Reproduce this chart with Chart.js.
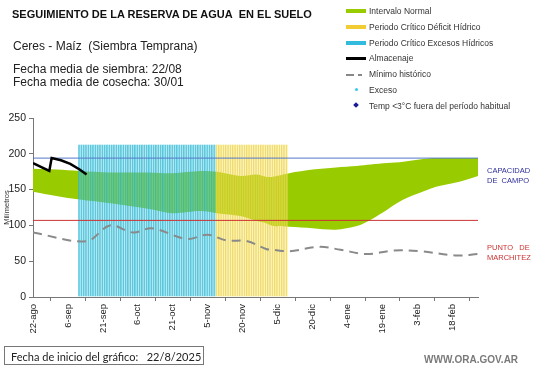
<!DOCTYPE html>
<html>
<head>
<meta charset="utf-8">
<script src="https://cdn.jsdelivr.net/npm/chart.js@4.4.1/dist/chart.umd.min.js"></script>
<style>
    body { margin: 0; background: #fff; font-family: "Liberation Sans", Arial, sans-serif; }
    #wrap { position: relative; width: 541px; height: 368px; overflow: hidden; }
    #grafico { position: absolute; left: 0; top: 0; }
    .txt { position: absolute; white-space: nowrap; color: #222; }
    .leyenda { position: absolute; left: 346px; top: 4px; font-size: 8.5px; color: #333; }
    .leyenda div { position: relative; height: 15.8px; line-height: 14px; padding-left: 23px; }
    .sw { position: absolute; left: 0; top: 5px; width: 20px; height: 4px; }
    .dot { position: absolute; left: 9px; top: 5px; width: 3px; height: 3px; border-radius: 50%; background: #33ccee; }
    .diam { position: absolute; left: 8px; top: 4px; width: 4px; height: 4px; background: #1a1a99; transform: rotate(45deg); }
</style>
</head>
<body>
<div id="wrap">
    <canvas id="grafico" width="541" height="368"></canvas>

    <div class="txt" style="left:12px; top:8px; font-size:11px; font-weight:bold; color:#111;">SEGUIMIENTO DE LA RESERVA DE AGUA&nbsp; EN EL SUELO</div>
    <div class="txt" style="left:13px; top:39px; font-size:12px;">Ceres - Maíz&nbsp; (Siembra Temprana)</div>
    <div class="txt" style="left:13px; top:63px; font-size:12px; line-height:13px;">Fecha media de siembra: 22/08<br>Fecha media de cosecha: 30/01</div>

    <div class="leyenda">
        <div><span class="sw" style="background:#99cc00;"></span>Intervalo Normal</div>
        <div><span class="sw" style="background:#f2cc33;"></span>Periodo Crítico Déficit Hídrico</div>
        <div><span class="sw" style="background:#33bbdd;"></span>Periodo Crítico Excesos Hídricos</div>
        <div><span class="sw" style="background:#000; height:2.5px; top:6px;"></span>Almacenaje</div>
        <div><span class="sw" style="background:linear-gradient(90deg,#888 0 8px,transparent 8px 12px,#888 12px 16px,transparent 16px); height:1.5px; top:7px;"></span>Mínimo histórico</div>
        <div><span class="dot"></span>Exceso</div>
        <div><span class="diam"></span>Temp &lt;3°C fuera del período habitual</div>
    </div>

    <div class="txt" style="left:487px; top:166px; font-size:7.5px; line-height:9.5px; color:#2e2e99;">CAPACIDAD<br>DE&nbsp; CAMPO</div>
    <div class="txt" style="left:487px; top:243px; font-size:7.5px; line-height:9.5px; color:#cc3333;">PUNTO&nbsp;&nbsp; DE<br>MARCHITEZ</div>

    <div class="txt" style="left:4px; top:346px; width:197px; height:19px; border:1px solid #777; font-family:Lato, sans-serif; font-size:11px; line-height:19px; padding-left:6px; box-sizing:border-box; width:200px;">Fecha de inicio del gráfico:&nbsp;&nbsp; 22/8/2025</div>
    <div class="txt" style="left:424px; top:354px; font-size:10px; font-weight:bold; color:#7a7a7a;">WWW.ORA.GOV.AR</div>
</div>

<script>
// días desde el 22/08
const tickDias = [0, 15, 30, 45, 60, 75, 90, 105, 120, 135, 150, 165, 180];
const tickEtiquetas = ["22-ago", "6-sep", "21-sep", "6-oct", "21-oct", "5-nov", "20-nov", "5-dic", "20-dic", "4-ene", "19-ene", "3-feb", "18-feb"];
const diaFinal = 191;

// intervalo normal (banda verde)
const normalDias = [0, 10, 20, 33, 50, 60, 72, 79, 89, 96, 100, 103, 110, 120, 130, 139, 145, 152, 159, 168, 173, 183, 191];
const normalSup = [179, 178, 176, 174, 174, 173, 176, 175, 169, 171, 168, 168, 173, 178, 181, 183, 185, 187, 189, 193, 194, 194, 194];
const normalInf = [147, 141, 136, 131, 123, 117, 120, 117, 113, 106, 103, 99, 98, 96, 94, 99, 108, 122, 136, 148, 154, 161, 169];

// mínimo histórico
const minimoDias = [0, 23, 33, 43, 51, 66, 75, 83, 92, 100, 103, 110, 123, 132, 143, 155, 166, 182, 191];
const minimoVals = [90, 78, 100, 90, 96, 81, 87, 79, 78, 67, 66, 64, 70, 66, 60, 65, 64, 58, 60];

// almacenaje
const almDias = [0, 7, 8, 12, 16, 20, 23];
const almVals = [187, 176, 194, 191, 186, 178, 171];

// periodos críticos (día inicio, día fin) y altura de las barras
const periodoExcesos = [20, 78];
const periodoDeficit = [79, 109];
const alturaPeriodo = 213;

const capacidadCampo = 194;
const puntoMarchitez = 107;

function aPuntos(dias, vals) {
    return dias.map((d, i) => ({ x: d, y: vals[i] }));
}

function barrasPeriodo(periodo) {
    const puntos = [];
    for (let d = periodo[0]; d <= periodo[1]; d++) {
        puntos.push({ x: d, y: alturaPeriodo });
    }
    return puntos;
}

const ctx = document.getElementById("grafico").getContext("2d");

const datasets = [
    {
        type: "line",
        label: "Almacenaje",
        data: aPuntos(almDias, almVals),
        borderColor: "#000",
        borderWidth: 2.5,
        pointRadius: 0,
        tension: 0,
        fill: false,
        order: 0,
    },
    {
        type: "line",
        label: "Mínimo histórico",
        data: aPuntos(minimoDias, minimoVals),
        borderColor: "#8a8a8a",
        borderWidth: 2,
        borderDash: [9, 6],
        pointRadius: 0,
        tension: 0.35,
        fill: false,
        order: 0,
    },
    {
        type: "line",
        label: "CC",
        data: [{ x: 0, y: capacidadCampo }, { x: diaFinal, y: capacidadCampo }],
        borderColor: "#5577cc",
        borderWidth: 1,
        pointRadius: 0,
        fill: false,
        order: 0,
    },
    {
        type: "line",
        label: "PMP",
        data: [{ x: 0, y: puntoMarchitez }, { x: diaFinal, y: puntoMarchitez }],
        borderColor: "#cc3333",
        borderWidth: 1,
        pointRadius: 0,
        fill: false,
        order: 0,
    },
    {
        type: "bar",
        label: "Excesos",
        data: barrasPeriodo(periodoExcesos),
        backgroundColor: "rgba(90, 205, 225, 0.35)",
        borderColor: "rgba(40, 180, 210, 0.75)",
        borderWidth: { left: 1, right: 0, top: 0, bottom: 0 },
        borderSkipped: false,
        barPercentage: 1,
        categoryPercentage: 1,
        grouped: false,
        order: 1,
    },
    {
        type: "bar",
        label: "Deficit",
        data: barrasPeriodo(periodoDeficit),
        backgroundColor: "rgba(250, 235, 120, 0.35)",
        borderColor: "rgba(235, 205, 60, 0.75)",
        borderWidth: { left: 1, right: 0, top: 0, bottom: 0 },
        borderSkipped: false,
        barPercentage: 1,
        categoryPercentage: 1,
        grouped: false,
        order: 1,
    },
    {
        type: "line",
        label: "inf",
        data: aPuntos(normalDias, normalInf),
        borderWidth: 0,
        pointRadius: 0,
        tension: 0.3,
        fill: false,
        order: 2,
    },
    {
        type: "line",
        label: "Intervalo Normal",
        data: aPuntos(normalDias, normalSup),
        borderWidth: 0,
        pointRadius: 0,
        tension: 0.3,
        backgroundColor: "#99cc00",
        fill: "-1",
        order: 3,
    },
];

const config = {
    type: "line",
    data: { datasets: datasets },
    options: {
        responsive: false,
        animation: false,
        layout: { padding: { top: 118, right: 63, left: 0, bottom: 0 } },
        plugins: {
            legend: { display: false },
            tooltip: { enabled: false },
        },
        scales: {
            x: {
                type: "linear",
                min: 0,
                max: diaFinal,
                offset: false,
                afterFit: (scale) => { scale.height = 71; },
                afterBuildTicks: (scale) => {
                    scale.ticks = tickDias.map((v) => ({ value: v }));
                },
                ticks: {
                    autoSkip: false,
                    minRotation: 90,
                    maxRotation: 90,
                    padding: 3,
                    color: "#222",
                    font: { family: "'Liberation Sans', Arial", size: 9.5 },
                    callback: (value) => tickEtiquetas[tickDias.indexOf(value)],
                },
                grid: { drawOnChartArea: false, tickLength: 4, color: "#777" },
                border: { color: "#777", width: 1 },
            },
            y: {
                min: 0,
                max: 250,
                afterFit: (scale) => { scale.width = 33; },
                ticks: {
                    stepSize: 50,
                    padding: 3,
                    color: "#222",
                    font: { family: "'Liberation Sans', Arial", size: 10.5 },
                },
                title: {
                    display: true,
                    text: "Milímetros",
                    color: "#333",
                    font: { family: "'Liberation Sans', Arial", size: 7.5 },
                    padding: { top: 2, bottom: 0 },
                },
                grid: { drawOnChartArea: false, tickLength: 4, color: "#777" },
                border: { color: "#777", width: 1 },
            },
        },
    },
};

new Chart(ctx, config);
</script>
</body>
</html>
